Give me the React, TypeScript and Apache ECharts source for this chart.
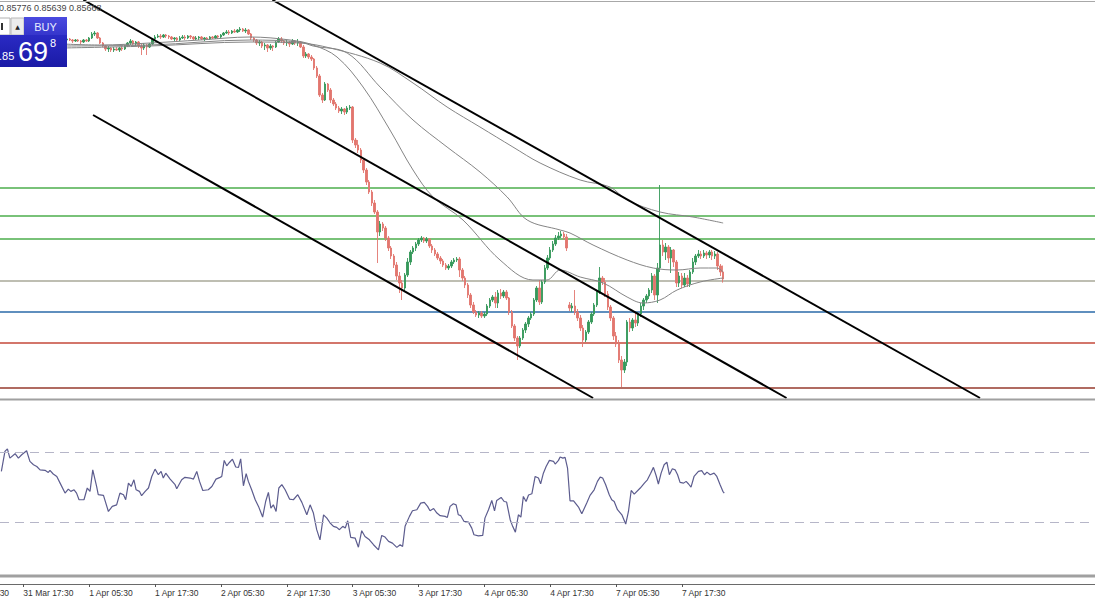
import React, { useEffect, useRef } from 'react';
import * as echarts from 'echarts';

// ---------- data ----------
const BAR_COUNT = 399;          // M30 slots across the window
const FIRST_CANDLE = 22;        // slot of the first visible candle
const FIRST_LABEL = 8;          // slot of "31 Mar 17:30"
const BARS_PER_LABEL = 24;
const POINT = 100000;           // prices stored in points (1e-5)

const timeLabels = ['31 Mar 17:30', '1 Apr 05:30', '1 Apr 17:30', '2 Apr 05:30', '2 Apr 17:30', '3 Apr 05:30', '3 Apr 17:30', '4 Apr 05:30', '4 Apr 17:30', '7 Apr 05:30', '7 Apr 17:30'];
const hiddenLeftLabel = '31 Mar 05:30';

// [open, close, low, high] in points
const candles: number[][] = [
  [87580, 87572, 87564, 87596], [87572, 87580, 87564, 87588], [87580, 87588, 87572, 87596], [87588, 87580, 87572, 87596], [87580, 87572, 87556, 87588],
  [87572, 87580, 87564, 87588], [87580, 87572, 87564, 87588], [87572, 87564, 87548, 87580], [87564, 87580, 87556, 87588], [87580, 87572, 87564, 87588],
  [87572, 87596, 87564, 87604], [87596, 87628, 87588, 87644], [87628, 87636, 87612, 87652], [87636, 87596, 87588, 87644], [87596, 87556, 87548, 87604],
  [87556, 87532, 87524, 87564], [87532, 87508, 87492, 87540], [87508, 87516, 87484, 87532], [87516, 87500, 87484, 87524], [87500, 87508, 87484, 87524],
  [87508, 87500, 87492, 87524], [87500, 87516, 87484, 87524], [87516, 87508, 87492, 87532], [87508, 87532, 87500, 87540], [87532, 87556, 87524, 87564],
  [87556, 87572, 87540, 87588], [87572, 87548, 87540, 87580], [87548, 87564, 87532, 87572], [87564, 87532, 87516, 87572], [87532, 87516, 87460, 87548],
  [87516, 87540, 87500, 87556], [87540, 87524, 87460, 87548], [87524, 87548, 87516, 87556], [87548, 87588, 87540, 87596], [87588, 87604, 87580, 87620],
  [87604, 87612, 87596, 87628], [87612, 87604, 87588, 87628], [87604, 87620, 87596, 87628], [87620, 87612, 87596, 87628], [87612, 87604, 87588, 87620],
  [87604, 87588, 87580, 87612], [87588, 87596, 87572, 87604], [87596, 87580, 87572, 87604], [87580, 87596, 87572, 87612], [87596, 87604, 87588, 87620],
  [87604, 87596, 87580, 87620], [87596, 87612, 87588, 87620], [87612, 87604, 87588, 87620], [87604, 87588, 87580, 87612], [87588, 87596, 87580, 87612],
  [87596, 87604, 87580, 87612], [87604, 87588, 87580, 87612], [87588, 87596, 87572, 87604], [87596, 87588, 87580, 87604], [87588, 87604, 87580, 87612],
  [87604, 87596, 87588, 87612], [87596, 87612, 87588, 87620], [87612, 87604, 87588, 87620], [87604, 87620, 87596, 87628], [87620, 87636, 87612, 87644],
  [87636, 87644, 87628, 87660], [87644, 87636, 87620, 87660], [87636, 87652, 87628, 87660], [87652, 87644, 87636, 87668], [87644, 87660, 87636, 87668],
  [87660, 87668, 87644, 87684], [87668, 87652, 87644, 87676], [87652, 87660, 87636, 87676], [87660, 87628, 87620, 87668], [87628, 87596, 87580, 87636],
  [87596, 87580, 87564, 87604], [87580, 87556, 87540, 87588], [87556, 87564, 87532, 87580], [87564, 87532, 87516, 87572], [87532, 87540, 87500, 87556],
  [87540, 87516, 87484, 87548], [87516, 87532, 87500, 87548], [87532, 87524, 87492, 87540], [87524, 87564, 87516, 87572], [87564, 87588, 87556, 87604],
  [87588, 87572, 87556, 87604], [87572, 87556, 87540, 87580], [87556, 87564, 87532, 87580], [87564, 87548, 87524, 87572], [87548, 87572, 87540, 87588],
  [87572, 87556, 87540, 87580], [87556, 87564, 87532, 87588], [87564, 87524, 87516, 87572], [87524, 87452, 87436, 87540], [87452, 87468, 87436, 87484],
  [87468, 87444, 87428, 87476], [87444, 87428, 87412, 87460], [87428, 87356, 87340, 87436], [87356, 87292, 87276, 87372], [87292, 87140, 87124, 87308],
  [87140, 87100, 87076, 87156], [87100, 87228, 87092, 87244], [87228, 87180, 87164, 87236], [87180, 87100, 87076, 87196], [87100, 87068, 87052, 87116],
  [87068, 87036, 87020, 87084], [87036, 87012, 86996, 87052], [87012, 87028, 86988, 87044], [87028, 87004, 86980, 87036], [87004, 87036, 86988, 87052],
  [87036, 87044, 87020, 87060], [87044, 86780, 86756, 87052], [86780, 86740, 86716, 86796], [86740, 86700, 86676, 86780], [86700, 86620, 86596, 86716],
  [86620, 86540, 86516, 86636], [86540, 86444, 86420, 86556], [86444, 86364, 86348, 86460], [86364, 86276, 86252, 86380], [86276, 86204, 86188, 86300],
  [86204, 86044, 85796, 86220], [86044, 86108, 86012, 86132], [86108, 86076, 86052, 86124], [86076, 85996, 85972, 86092], [85996, 85916, 85892, 86012],
  [85916, 85852, 85828, 85932], [85852, 85780, 85756, 85868], [85780, 85692, 85660, 85804], [85692, 85636, 85556, 85724], [85636, 85596, 85500, 85660],
  [85596, 85700, 85572, 85716], [85700, 85804, 85684, 85836], [85804, 85884, 85780, 85900], [85884, 85916, 85868, 85932], [85916, 85948, 85892, 85964],
  [85948, 85980, 85932, 85996], [85980, 85996, 85964, 86012], [85996, 85972, 85956, 86004], [85972, 85988, 85956, 86004], [85988, 85932, 85916, 85996],
  [85932, 85900, 85876, 85948], [85900, 85868, 85852, 85916], [85868, 85836, 85820, 85884], [85836, 85812, 85788, 85852], [85812, 85780, 85764, 85828],
  [85780, 85756, 85740, 85796], [85756, 85772, 85740, 85788], [85772, 85804, 85756, 85820], [85804, 85820, 85788, 85836], [85820, 85828, 85804, 85844],
  [85828, 85740, 85684, 85844], [85740, 85676, 85652, 85756], [85676, 85620, 85596, 85692], [85620, 85540, 85516, 85636], [85540, 85460, 85436, 85556],
  [85460, 85404, 85388, 85484], [85404, 85380, 85364, 85420], [85380, 85396, 85356, 85412], [85396, 85372, 85356, 85412], [85372, 85388, 85356, 85404],
  [85388, 85452, 85372, 85468], [85452, 85500, 85436, 85516], [85500, 85524, 85484, 85540], [85524, 85476, 85436, 85564], [85476, 85556, 85436, 85580],
  [85556, 85532, 85508, 85588], [85532, 85564, 85516, 85580], [85564, 85516, 85500, 85580], [85516, 85404, 85380, 85524], [85404, 85292, 85276, 85420],
  [85292, 85196, 85172, 85308], [85196, 85132, 85020, 85212], [85132, 85196, 85116, 85212], [85196, 85260, 85180, 85276], [85260, 85308, 85236, 85324],
  [85308, 85356, 85284, 85372], [85356, 85388, 85340, 85404], [85388, 85500, 85372, 85516], [85500, 85596, 85484, 85612], [85596, 85484, 85460, 85660],
  [85484, 85644, 85468, 85660], [85644, 85756, 85628, 85780], [85756, 85836, 85740, 85860], [85836, 85900, 85820, 85924], [85900, 85948, 85884, 85972],
  [85948, 85996, 85932, 86020], [85996, 86012, 85980, 86044], [86012, 86028, 85996, 86052], [86028, 86004, 85980, 86044], [86004, 85916, 85892, 86028],
  [85460, 85436, 85412, 85484], [85436, 85452, 85404, 85476], [85452, 85404, 85380, 85580], [85404, 85356, 85332, 85428], [85356, 85276, 85252, 85380],
  [85276, 85180, 85124, 85300], [85180, 85244, 85164, 85260], [85244, 85324, 85228, 85340], [85324, 85388, 85308, 85404], [85388, 85460, 85372, 85476],
  [85460, 85564, 85444, 85580], [85564, 85676, 85548, 85764], [85676, 85644, 85620, 85692], [85644, 85548, 85524, 85676], [85548, 85444, 85420, 85572],
  [85444, 85356, 85332, 85460], [85356, 85212, 85180, 85372], [85212, 85148, 85124, 85244], [85148, 85020, 84996, 85180], [85020, 84940, 84804, 85052],
  [84940, 85004, 84916, 85028], [85004, 85324, 84972, 85340], [85324, 85276, 85244, 85356], [85276, 85340, 85252, 85356], [85340, 85316, 85284, 85396],
  [85316, 85388, 85292, 85404], [85388, 85452, 85364, 85476], [85452, 85500, 85420, 85516], [85500, 85532, 85476, 85548], [85532, 85580, 85508, 85596],
  [85580, 85692, 85556, 85716], [85692, 85540, 85500, 85708], [85540, 85756, 85476, 85796], [85756, 85940, 85724, 86420], [85940, 85884, 85852, 85980],
  [85884, 85924, 85820, 85956], [85924, 85836, 85796, 85940], [85836, 85900, 85716, 85924], [85900, 85804, 85764, 85908], [85804, 85636, 85604, 85820],
  [85636, 85692, 85604, 85724], [85692, 85620, 85596, 85716], [85620, 85676, 85604, 85716], [85676, 85628, 85604, 85700], [85628, 85724, 85604, 85740],
  [85724, 85804, 85708, 85836], [85804, 85852, 85780, 85868], [85852, 85868, 85836, 85900], [85868, 85852, 85828, 85892], [85852, 85876, 85836, 85900],
  [85876, 85860, 85828, 85892], [85860, 85884, 85836, 85900], [85884, 85852, 85820, 85900], [85852, 85868, 85828, 85892], [85868, 85772, 85740, 85884],
  [85772, 85724, 85692, 85788], [85724, 85668, 85639, 85776],
];

// moving averages, [slot, points]
const maFast: number[][] = [[22.1, 87548], [35.9, 87540], [54.2, 87556], [72.4, 87580], [90.6, 87604], [105.2, 87580], [113.6, 87540], [122.3, 87444], [131.8, 87204], [141.6, 86860], [150.0, 86540], [157.3, 86324], [168.2, 86140], [181.7, 85820], [193.7, 85660], [198.8, 85660], [203.6, 85740], [210.9, 85684], [219.3, 85636], [228.0, 85524], [233.8, 85476], [240.0, 85500], [246.2, 85580], [254.6, 85644], [263.0, 85676]];
const maMid: number[][] = [[22.1, 87532], [54.2, 87540], [90.6, 87580], [108.8, 87564], [113.6, 87532], [126.0, 87476], [138.0, 87204], [150.0, 86940], [162.4, 86724], [174.4, 86524], [184.3, 86324], [191.6, 86140], [203.6, 86060], [207.2, 86036], [215.6, 85940], [228.0, 85820], [237.5, 85756], [246.2, 85740], [254.6, 85756], [260.8, 85756], [263.0, 85724]];
const maSlow: number[][] = [[22.1, 87516], [54.2, 87532], [90.6, 87564], [108.8, 87556], [119.8, 87516], [138.0, 87396], [150.0, 87236], [162.4, 87044], [174.4, 86884], [186.4, 86724], [196.3, 86596], [210.9, 86460], [221.8, 86404], [228.0, 86300], [240.0, 86204], [252.0, 86164], [263.0, 86116]];

// channel trend lines, [slot, points]
const channelUpper: number[][] = [[98.8, 87900], [356.6, 84716]];
const channelMiddle: number[][] = [[29.9, 87900], [286.1, 84716]];
const channelLower: number[][] = [[33.4, 86980], [215.6, 84716]];

// horizontal levels (points)
const levels = [86396, 86172, 85988, 85652, 85404, 85156, 84796];
const priceMin = 84716;
const priceMax = 87900;

// RSI, [slot, value]
const rsi: number[][] = [[0, 59.2], [1.3, 70.6], [2.2, 72.1], [3.1, 66.8], [5.0, 69.3], [6.2, 66.8], [7.4, 68.7], [9.2, 71.0], [10.4, 64.9], [11.7, 63.0], [12.9, 62.0], [14.1, 60.1], [15.9, 59.8], [17.1, 58.6], [17.7, 59.8], [18.9, 57.7], [20.2, 56.3], [21.4, 52.5], [23.2, 46.8], [24.4, 49.1], [25.3, 47.8], [26.5, 48.7], [27.4, 46.8], [28.3, 43.0], [30.1, 43.0], [31.3, 49.7], [32.3, 47.8], [33.3, 60.1], [34.7, 50.6], [35.3, 45.9], [37.2, 45.5], [39.0, 36.3], [40.4, 39.2], [42.0, 40.1], [43.2, 46.8], [44.5, 45.9], [45.3, 43.0], [46.3, 52.5], [47.3, 50.6], [48.3, 54.4], [49.1, 48.7], [50.3, 47.8], [51.1, 45.3], [52.4, 47.8], [53.6, 49.7], [54.8, 56.3], [56.0, 60.5], [57.2, 57.3], [58.2, 59.2], [59.0, 55.4], [59.9, 58.2], [61.5, 54.8], [63.3, 51.6], [63.9, 49.3], [65.7, 54.4], [66.9, 55.8], [68.8, 55.4], [70.0, 54.8], [71.2, 59.2], [72.2, 53.5], [73.4, 48.3], [75.4, 48.7], [76.7, 50.6], [78.2, 54.8], [79.7, 55.8], [80.3, 56.3], [81.2, 65.5], [82.1, 62.4], [83.1, 64.3], [84.2, 66.2], [85.4, 61.7], [86.4, 61.5], [87.2, 66.4], [88.2, 51.0], [89.2, 57.9], [90.0, 53.5], [91.2, 48.7], [92.5, 43.0], [93.7, 39.2], [95.2, 33.1], [96.3, 42.0], [97.3, 47.2], [98.2, 38.2], [99.1, 40.1], [100.1, 36.3], [101.1, 49.7], [102.2, 51.6], [103.4, 48.7], [105.0, 43.4], [106.4, 43.0], [108.0, 45.9], [109.5, 41.5], [111.3, 34.4], [112.5, 40.1], [113.7, 35.4], [114.9, 25.9], [116.1, 20.1], [117.4, 34.4], [118.6, 32.5], [119.8, 29.7], [121.0, 27.8], [122.2, 27.2], [123.2, 25.9], [124.4, 27.8], [125.3, 26.8], [126.2, 31.0], [127.3, 21.5], [128.9, 21.1], [130.1, 15.9], [131.3, 25.3], [132.5, 22.0], [134.1, 20.1], [135.6, 17.3], [137.4, 14.4], [138.6, 22.6], [139.8, 21.7], [141.1, 19.2], [142.5, 18.2], [144.1, 15.8], [145.3, 17.3], [146.2, 16.3], [147.1, 27.8], [148.7, 33.5], [149.8, 36.7], [151.4, 37.3], [152.8, 41.1], [154.1, 41.5], [155.3, 39.2], [156.2, 36.7], [157.5, 38.0], [158.7, 35.4], [159.9, 33.9], [161.7, 33.5], [162.5, 32.9], [163.5, 39.2], [164.7, 40.7], [165.7, 40.1], [166.5, 34.4], [167.4, 33.9], [168.6, 30.6], [170.2, 30.2], [171.4, 26.8], [172.2, 23.0], [173.8, 22.4], [175.4, 22.6], [176.2, 32.5], [177.5, 37.3], [178.7, 42.6], [179.7, 36.7], [180.5, 42.6], [182.1, 44.3], [183.2, 42.0], [184.1, 41.7], [185.4, 31.6], [186.3, 27.8], [187.3, 24.5], [188.4, 34.4], [189.3, 33.1], [190.2, 44.9], [191.2, 42.0], [192.1, 45.7], [193.3, 46.4], [194.5, 56.3], [195.7, 55.4], [196.5, 52.1], [197.5, 58.2], [198.5, 62.0], [199.7, 65.5], [201.2, 64.9], [201.8, 63.4], [203.0, 65.5], [203.6, 67.4], [204.6, 66.8], [205.4, 67.2], [206.3, 61.1], [207.2, 42.4], [208.5, 42.4], [210.3, 38.8], [211.5, 35.0], [213.3, 41.1], [214.5, 45.5], [216.0, 48.7], [217.2, 53.5], [218.2, 55.9], [219.1, 55.4], [220.2, 51.6], [221.5, 45.9], [222.4, 43.0], [223.3, 42.0], [224.5, 37.3], [226.1, 34.4], [227.5, 29.1], [228.5, 36.3], [229.5, 48.3], [230.6, 46.2], [232.8, 49.7], [234.3, 52.5], [235.4, 54.4], [236.6, 58.2], [237.6, 61.5], [238.6, 56.7], [239.4, 52.0], [240.4, 58.2], [241.5, 63.0], [242.5, 64.5], [243.4, 57.3], [244.5, 60.7], [245.5, 60.1], [246.4, 57.3], [247.3, 52.9], [248.6, 52.5], [249.5, 53.5], [250.4, 52.0], [251.3, 50.2], [252.4, 56.3], [254.0, 59.2], [255.2, 59.6], [256.2, 57.3], [257.1, 58.8], [258.3, 57.3], [259.7, 58.2], [260.7, 56.3], [261.9, 51.6], [262.9, 47.8], [263.4, 46.8]];
const rsiLevels = [70, 30];

const headerQuote = ['0.85776', '0.85639', '0.85668'];
const askPrefix = '.85';
const askBig = '69';
const askPoint = '8';

// ---------- styles ----------
const UP = '#36985a';
const DOWN = '#e2766e';
const levelColors = ['#4cae4c', '#4cae4c', '#4cae4c', '#a8a898', '#2a6aa8', '#c4483a', '#963a2c'];
const levelWidths = [1.3, 1.3, 1.3, 1.3, 1.6, 1.4, 1.5];
const MA_COLOR = '#858585';
const FONT = 'Liberation Sans, Arial, sans-serif';

const toPrice = (p: number) => p / POINT;

export default function App() {
  const ref = useRef<HTMLDivElement>(null);

  useEffect(() => {
    if (!ref.current) return;
    const chart = echarts.init(ref.current, undefined, { renderer: 'svg' });
    const slots = Array.from({ length: BAR_COUNT }, (_, i) => String(i));
    const lastLabelSlot = FIRST_LABEL + (timeLabels.length - 1) * BARS_PER_LABEL;
    const isLabelSlot = (i: number) => i >= FIRST_LABEL && i <= lastLabelSlot && (i - FIRST_LABEL) % BARS_PER_LABEL === 0;
    const candleData = candles.map((c, k) => [FIRST_CANDLE + k, ...c.map(toPrice)]);
    const pairs = (arr: number[][]) => arr.map(([x, p]) => [x, toPrice(p)]);
    const valueX = (gridIndex: number) => ({
      type: 'value' as const, gridIndex, min: -0.5, max: BAR_COUNT - 0.5, show: false,
      splitLine: { show: false },
    });

    const gradPanel = new echarts.graphic.LinearGradient(0, 0, 0, 1, [
      { offset: 0, color: '#2a2ac4' }, { offset: 1, color: '#1a1aa6' },
    ]);
    const gradBuy = new echarts.graphic.LinearGradient(0, 0, 0, 1, [
      { offset: 0, color: '#4a4ae0' }, { offset: 1, color: '#3636cc' },
    ]);

    chart.setOption({
      animation: false,
      backgroundColor: '#ffffff',
      grid: [
        { left: 0, right: 0, top: 0, height: 398 },
        { left: 0, right: 0, top: 400, height: 175 },
      ],
      xAxis: [
        { type: 'category', gridIndex: 0, data: slots, show: false, boundaryGap: true },
        valueX(0),
        {
          type: 'category', gridIndex: 1, data: slots, boundaryGap: true, position: 'bottom', offset: 9,
          axisLine: { show: true, onZero: false, lineStyle: { color: '#6a6a6a', width: 1 } },
          axisTick: { show: true, alignWithLabel: true, length: 3, interval: (i: number) => isLabelSlot(i), lineStyle: { color: '#555' } },
          axisLabel: {
            show: true, interval: (i: number) => isLabelSlot(i), align: 'left', margin: 4,
            fontFamily: FONT, fontSize: 8.5, color: '#333',
            formatter: (_v: string, i: number) => (isLabelSlot(i) ? timeLabels[(i - FIRST_LABEL) / BARS_PER_LABEL] ?? '' : ''),
          },
          splitLine: { show: false },
        },
        valueX(1),
      ],
      yAxis: [
        { type: 'value', gridIndex: 0, min: toPrice(priceMin), max: toPrice(priceMax), show: false, splitLine: { show: false } },
        { type: 'value', gridIndex: 1, min: 0, max: 100, show: false, splitLine: { show: false } },
      ],
      series: [
        ...levels.map((v, i) => ({
          type: 'line', xAxisIndex: 1, yAxisIndex: 0, showSymbol: false, silent: true,
          data: [[-0.5, toPrice(v)], [BAR_COUNT - 0.5, toPrice(v)]],
          lineStyle: { color: levelColors[i], width: levelWidths[i] }, z: 1,
        })),
        {
          type: 'candlestick', xAxisIndex: 0, yAxisIndex: 0, data: candleData,
          encode: { x: 0, y: [1, 2, 3, 4] },
          barWidth: 2,
          itemStyle: { color: UP, color0: DOWN, borderColor: UP, borderColor0: DOWN, borderWidth: 0.9 },
          z: 2,
        },
        ...[maSlow, maMid, maFast].map((m) => ({
          type: 'line', xAxisIndex: 1, yAxisIndex: 0, data: pairs(m), smooth: 0.35, showSymbol: false,
          lineStyle: { color: MA_COLOR, width: 1 }, z: 3,
        })),
        ...[channelUpper, channelMiddle, channelLower].map((l) => ({
          type: 'line', xAxisIndex: 1, yAxisIndex: 0, data: pairs(l), showSymbol: false, clip: true,
          lineStyle: { color: '#000', width: 2 }, z: 4,
        })),
        {
          type: 'line', xAxisIndex: 3, yAxisIndex: 1, data: rsi, showSymbol: false,
          lineStyle: { color: '#5c5c8e', width: 1.2 },
          markLine: {
            silent: true, symbol: ['none', 'none'], label: { show: false },
            lineStyle: { color: '#b6b6c8', width: 1, type: [9, 6] },
            data: rsiLevels.map((v) => ({ yAxis: v })),
          },
        },
      ],
      graphic: [
        { type: 'line', z: 50, shape: { x1: 0, y1: 1.5, x2: 1095, y2: 1.5 }, style: { stroke: '#a8a8a8', lineWidth: 1 } },
        { type: 'rect', z: 50, shape: { x: 0, y: 398.5, width: 1095, height: 2 }, style: { fill: '#a0a0a0' } },
        { type: 'rect', z: 50, shape: { x: 0, y: 574.5, width: 1095, height: 3 }, style: { fill: '#a0a0a0' } },
        { type: 'text', z: 50, x: -41, y: 588, style: { text: hiddenLeftLabel, fontFamily: FONT, fontSize: 8.5, fill: '#333' } },
        { type: 'text', z: 50, x: -1, y: 3, style: { text: headerQuote.join(' '), fontFamily: FONT, fontSize: 9, fill: '#444' } },
        // one-click trading panel
        { type: 'rect', z: 60, shape: { x: -2, y: 18, width: 12, height: 17 }, style: { fill: '#fff', stroke: '#b0b0b0', lineWidth: 1 } },
        { type: 'rect', z: 61, shape: { x: 1, y: 23, width: 2, height: 7 }, style: { fill: '#333' } },
        { type: 'rect', z: 60, shape: { x: 11, y: 18, width: 13, height: 17 }, style: { fill: '#ececec', stroke: '#b8b8b8', lineWidth: 1 } },
        { type: 'text', z: 61, x: 17.5, y: 26.5, style: { text: '▲', fontFamily: 'DejaVu Sans', fontSize: 6, fill: '#222', align: 'center', verticalAlign: 'middle' } },
        { type: 'rect', z: 60, shape: { x: 24, y: 17, width: 43, height: 18 }, style: { fill: gradBuy } },
        { type: 'text', z: 61, x: 45.5, y: 26.5, style: { text: 'BUY', fontFamily: FONT, fontSize: 11, fill: '#e8ecff', align: 'center', verticalAlign: 'middle' } },
        { type: 'rect', z: 60, shape: { x: 0, y: 35, width: 67, height: 32 }, style: { fill: gradPanel } },
        { type: 'text', z: 61, x: -1, y: 56, style: { text: askPrefix, fontFamily: FONT, fontSize: 11, fill: '#fff', verticalAlign: 'middle' } },
        { type: 'text', z: 61, x: 33, y: 51.5, style: { text: askBig, fontFamily: FONT, fontSize: 27, fill: '#fff', align: 'center', verticalAlign: 'middle' } },
        { type: 'text', z: 61, x: 50, y: 43, style: { text: askPoint, fontFamily: FONT, fontSize: 11, fill: '#fff', verticalAlign: 'middle' } },
      ],
    });
    return () => chart.dispose();
  }, []);

  return (
    <div
      ref={ref}
      style={{ position: 'absolute', left: 0, top: 0, width: 1095, height: 600, background: '#fff' }}
    />
  );
}
